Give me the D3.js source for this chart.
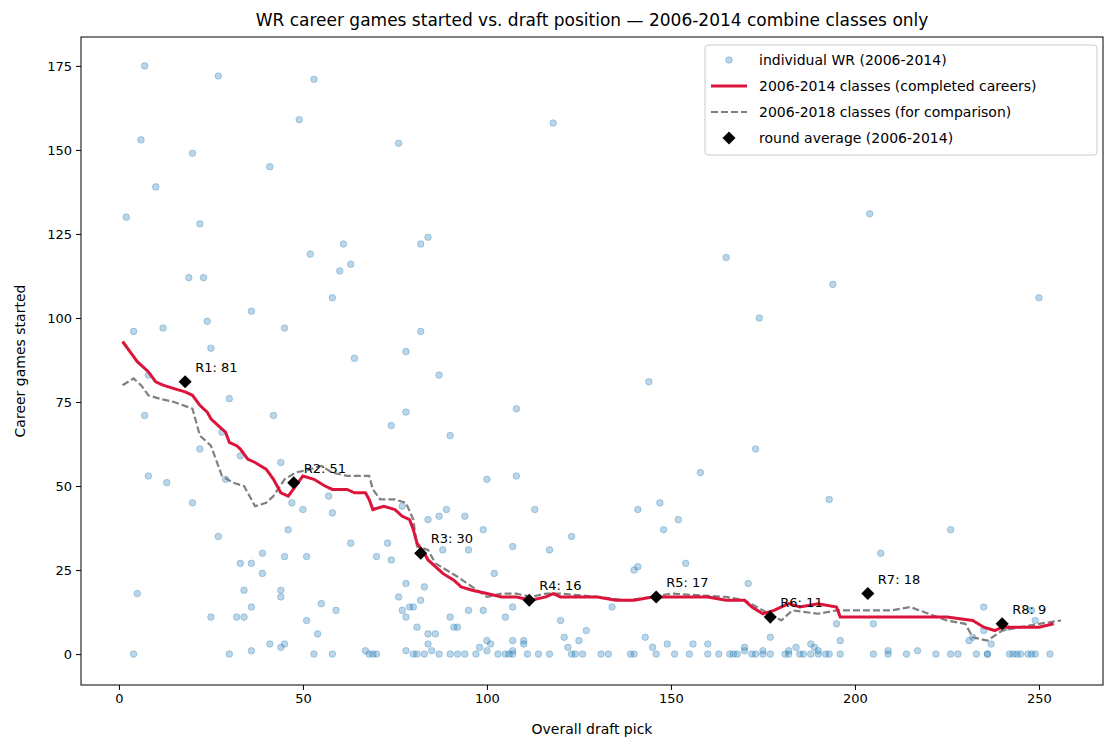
<!DOCTYPE html><html><head><meta charset="utf-8"><script src="https://cdn.jsdelivr.net/npm/d3@7"></script>
<style>body{margin:0;background:#fff}text{font-family:"DejaVu Sans",sans-serif}</style></head><body><svg id="c" width="1115" height="750"></svg>
<script>
const ptPick=[2,4,4,5,7,6,7,8,8,10,12,13,19,20,20,22,23,22,24,25,25,27,27,28,29,30,30,32,33,33,34,34,36,36,36,36,39,39,41,41,42,44,44,44,44,45,45,45,46,47,49,50,51,51,53,52,53,54,55,57,58,58,59,58,60,61,63,63,64,67,68,69,70,70,73,74,74,76,76,78,78,78,78,77,78,77,79,80,80,81,81,82,82,82,83,83,84,84,84,84,85,86,87,87,88,87,89,90,90,90,91,92,92,94,94,95,95,97,98,99,99,100,100,100,101,102,103,105,105,106,107,107,107,107,107,108,108,110,110,111,113,114,117,118,117,120,121,122,123,123,124,125,126,127,131,133,134,139,140,140,141,141,143,144,145,146,147,148,149,151,152,154,155,156,158,160,160,163,165,166,167,168,170,170,171,172,173,173,174,175,175,177,177,181,182,182,184,185,186,188,188,189,190,190,192,193,193,194,195,196,196,204,205,205,207,209,209,214,217,222,226,226,228,231,232,233,235,235,236,237,236,241,242,243,244,245,247,248,248,249,250,249,253];
const ptGames=[130,96,0,18,175,153,71,83,53,139,97,51,112,149,45,128,112,61,99,91,11,172,35,66,52,0,76,11,59,27,19,11,102,27,14,1,30,24,145,3,71,19,17,57,2,97,3,29,37,45,159,43,29,10,171,119,0,6,15,47,106,42,13,0,114,122,116,33,88,1,0,0,29,0,33,68,28,152,17,90,72,1,21,13,11,44,14,0,14,0,8,122,16,96,20,0,40,124,6,3,1,6,83,41,31,0,43,65,11,0,8,8,0,41,0,31,13,0,2,37,13,52,4,1,3,24,0,0,11,0,4,1,0,14,32,73,53,3,4,0,43,0,31,158,0,10,5,2,0,35,0,4,0,7,0,0,14,0,25,0,26,43,5,81,2,0,45,37,3,0,40,27,0,3,54,0,3,0,118,0,0,0,2,1,21,0,0,61,100,1,0,5,0,0,1,0,2,0,0,0,3,2,1,0,0,46,0,110,9,4,0,131,0,9,30,1,0,0,1,0,37,0,0,4,5,0,14,7,0,3,0,8,0,0,0,0,0,0,13,0,106,10,0];
const redPick=[1,3,5,8,10,12,15,18,20,22,24,25,27,29,30,32,33,35,37,40,42,44,46,48,50,53,56,58,62,64,67,68,69,72,75,77,79,80,81,83,84,86,88,91,93,96,100,104,108,112,116,118,120,125,130,135,140,145,150,160,165,170,172,175,178,182,185,190,195,196,200,210,225,232,235,238,240,250,254];
const redGames=[93,90,87,84,81,80,79,78,77,74,72,70,68,66,63,62,61,58,57,55,52,48,47,50,53,52,50,49,49,48,48,46,43,44,43,41,40,37,33,30,28,26,24,22,20,19,18,17,17,16,17,18,17,17,17,16,16,17,17,17,16,16,14,12,13,15,14,15,14,11,11,11,11,10,8,7,8,8,9];
const grayPick=[1,4,6,8,11,15,20,22,25,28,31,34,37,40,42,45,48,52,55,58,62,68,69,71,75,78,80,81,84,86,89,92,96,100,104,108,112,116,120,130,138,145,150,165,170,175,180,183,190,195,200,210,215,220,225,230,232,236,240,245,250,256];
const grayGames=[80,82,80,77,76,75,73,65,62,53,51,50,44,45,47,52,54,55,56,54,53,53,49,46,46,45,40,32,31,27,25,23,20,17,18,18,17,18,18,17,16,17,18,17,16,13,10,13,12,13,13,13,14,12,10,9,5,4,7,8,9,10];
const rounds=["R1","R2","R3","R4","R5","R6","R7","R8"];
const roundPick=[18,47.5,82,111.5,146,177,203.5,240];
const roundAvg=[81,51,30,16,17,11,18,9];
const xTicks=[0,50,100,150,200,250], yTicks=[0,25,50,75,100,125,150,175];

const svg=d3.select("#c");
const L=81,R=1103,T=37,B=685;
const x=d3.scaleLinear().domain([-10.3,267.4]).range([L,R]);
const y=d3.scaleLinear().domain([-9.2,183.6]).range([B,T]);
svg.append("g").attr("transform",`translate(0,${B})`).call(d3.axisBottom(x).tickValues(xTicks).tickSize(5).tickPadding(4)).call(g=>g.select(".domain").remove());
svg.append("g").attr("transform",`translate(${L},0)`).call(d3.axisLeft(y).tickValues(yTicks).tickSize(5).tickPadding(4)).call(g=>g.select(".domain").remove());
svg.selectAll(".tick text").attr("font-size",13).attr("fill","#000");
svg.append("g").selectAll("circle").data(ptPick).join("circle").attr("cx",d=>x(d)).attr("cy",(d,i)=>y(ptGames[i])).attr("r",3.3).attr("fill","#1f77b4").attr("fill-opacity",0.3).attr("stroke","#1f77b4").attr("stroke-opacity",0.3);
const line=d3.line().x(d=>x(d[0])).y(d=>y(d[1]));
svg.append("path").attr("d",line(grayPick.map((p,i)=>[p,grayGames[i]]))).attr("fill","none").attr("stroke","#808080").attr("stroke-width",2.2).attr("stroke-dasharray","7,3");
svg.append("path").attr("d",line(redPick.map((p,i)=>[p,redGames[i]]))).attr("fill","none").attr("stroke","crimson").attr("stroke-width",3);
const sym=d3.symbol().type(d3.symbolSquare).size(85);
svg.append("g").selectAll("path").data(roundPick).join("path").attr("d",sym).attr("transform",(d,i)=>`translate(${x(d)},${y(roundAvg[i])}) rotate(45)`).attr("fill","#000");
svg.append("g").selectAll("text").data(roundPick).join("text").attr("x",d=>x(d)+10).attr("y",(d,i)=>y(roundAvg[i])-10).attr("font-size",13).text((d,i)=>`${rounds[i]}: ${roundAvg[i]}`);
svg.append("rect").attr("x",L).attr("y",T).attr("width",R-L).attr("height",B-T).attr("fill","none").attr("stroke","#000");
svg.append("text").attr("x",(L+R)/2).attr("y",26).attr("text-anchor","middle").attr("font-size",17).text("WR career games started vs. draft position — 2006-2014 combine classes only");
svg.append("text").attr("x",(L+R)/2).attr("y",734).attr("text-anchor","middle").attr("font-size",14).text("Overall draft pick");
svg.append("text").attr("transform",`translate(25,${(T+B)/2}) rotate(-90)`).attr("text-anchor","middle").attr("font-size",14).text("Career games started");
const lg=svg.append("g").attr("transform","translate(705,45)");
lg.append("rect").attr("width",392).attr("height",110).attr("rx",3).attr("fill","#fff").attr("fill-opacity",0.8).attr("stroke","#ccc");
const items=["individual WR (2006-2014)","2006-2014 classes (completed careers)","2006-2018 classes (for comparison)","round average (2006-2014)"];
items.forEach((t,i)=>{const yy=15+i*26;lg.append("text").attr("x",54).attr("y",yy+5).attr("font-size",14).text(t);
 if(i==0)lg.append("circle").attr("cx",24).attr("cy",yy).attr("r",3.3).attr("fill","#1f77b4").attr("fill-opacity",0.3).attr("stroke","#1f77b4").attr("stroke-opacity",0.3);
 if(i==1)lg.append("line").attr("x1",6).attr("x2",42).attr("y1",yy).attr("y2",yy).attr("stroke","crimson").attr("stroke-width",3);
 if(i==2)lg.append("line").attr("x1",6).attr("x2",42).attr("y1",yy).attr("y2",yy).attr("stroke","#808080").attr("stroke-width",2.2).attr("stroke-dasharray","7,3");
 if(i==3)lg.append("path").attr("d",sym).attr("transform",`translate(24,${yy}) rotate(45)`);
});
</script></body></html>
